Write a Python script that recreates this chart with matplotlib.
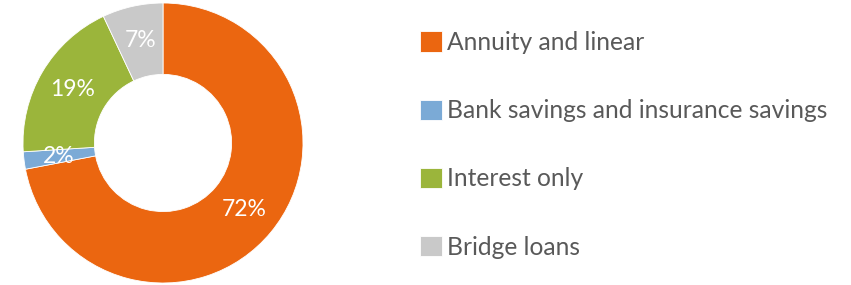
import matplotlib.pyplot as plt

# Data
categories = ['Annuity and linear', 'Bank savings and insurance savings',
              'Interest only', 'Bridge loans']
shares = [72, 2, 19, 7]
colors = ['#EB6610', '#7BAAD6', '#9BB53B', '#C9C9C9']

plt.rcParams['font.family'] = ['Lato', 'DejaVu Sans']

fig = plt.figure(figsize=(8.51, 2.85), dpi=100)
ax = fig.add_axes([23 / 851, 2 / 285, 280 / 851, 280 / 285])

wedges, texts, autotexts = ax.pie(
    shares, colors=colors, startangle=90, counterclock=False,
    radius=1.0, pctdistance=0.75, autopct='%1.0f%%',
    wedgeprops=dict(width=0.51, edgecolor='white', linewidth=0.6),
    textprops=dict(color='white', fontsize=16.5))
ax.set_xlim(-1, 1)
ax.set_ylim(-1, 1)
ax.set_aspect('equal')

fig.legend(wedges, categories, loc='upper left', bbox_to_anchor=(420 / 851, 1 - 31 / 285),
           frameon=False, fontsize=17.7, labelcolor='#595959',
           handlelength=0.9, handleheight=0.9, handletextpad=0.2,
           labelspacing=1.84, borderpad=0, borderaxespad=0)

fig.savefig('out.png', dpi=100)
